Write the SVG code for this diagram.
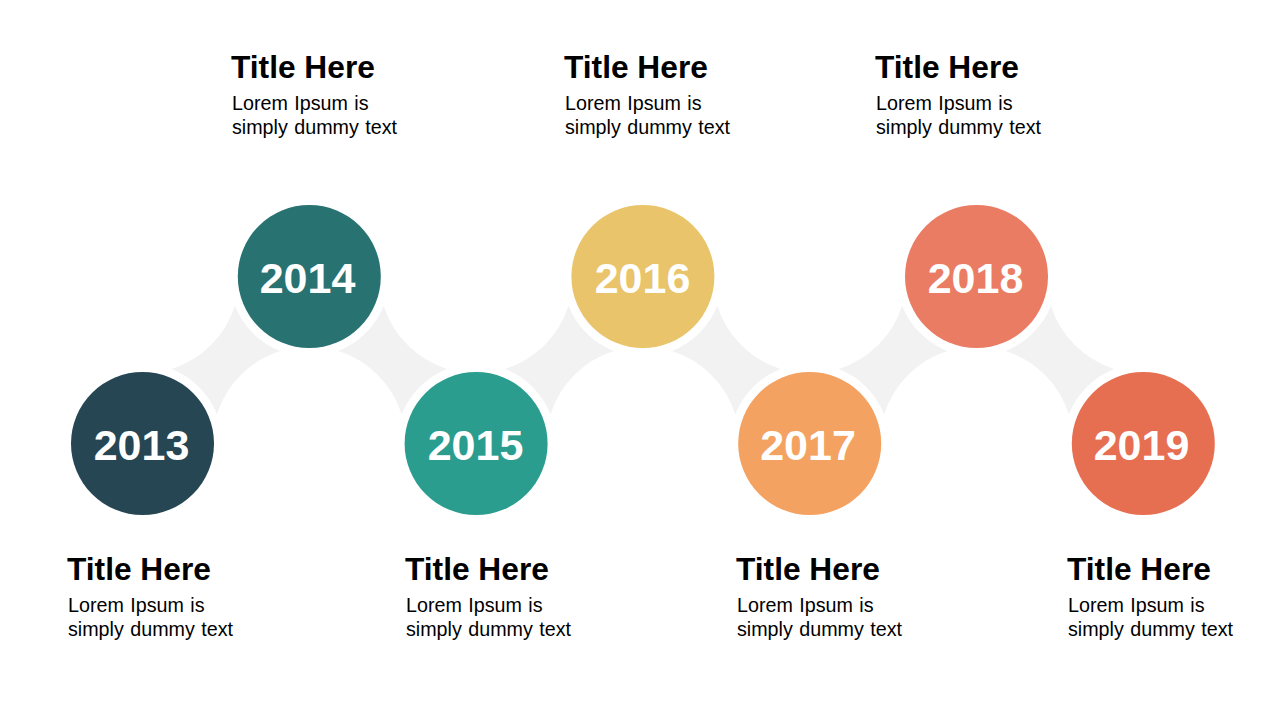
<svg xmlns="http://www.w3.org/2000/svg" xmlns:xlink="http://www.w3.org/1999/xlink" width="1280" height="720" viewBox="0 0 1280 720">
<style>
.title{font-family:"Liberation Sans",Arial,sans-serif;font-weight:bold;font-size:31.7px;fill:#000}
.body{font-family:"Liberation Sans",Arial,sans-serif;font-size:19.7px;fill:#000;word-spacing:1px}
.year{font-family:"Liberation Sans",Arial,sans-serif;font-weight:bold;font-size:43px;fill:#fff;text-anchor:middle}
.star{fill:#F2F2F2}
</style>
<defs>
<path id="starUp" d="M-54.33,8.99 A97,97 0 0 0 9.01,-54.33 A80,80 0 0 0 54.33,-9.01 A97,97 0 0 0 -9.01,54.33 A80,80 0 0 0 -54.33,8.99 Z"/>
</defs>
<rect width="1280" height="720" fill="#fff"/>
<g id="connectors">
<use xlink:href="#starUp" class="star" transform="translate(225.9,360)"/>
<use xlink:href="#starUp" class="star" transform="translate(392.7,360) scale(-1,1)"/>
<use xlink:href="#starUp" class="star" transform="translate(559.5,360)"/>
<use xlink:href="#starUp" class="star" transform="translate(726.3,360) scale(-1,1)"/>
<use xlink:href="#starUp" class="star" transform="translate(893.1,360)"/>
<use xlink:href="#starUp" class="star" transform="translate(1059.9,360) scale(-1,1)"/>
</g>
<g id="node2013">
<circle cx="142.5" cy="443.5" r="71.5" fill="#264653"/>
<text class="year" x="141.5" y="459.5">2013</text>
<text class="title" x="67" y="580">Title Here</text>
<text class="body" x="68" y="611.5">Lorem Ipsum is</text>
<text class="body" x="68" y="635.5">simply dummy text</text>
</g>
<g id="node2014">
<circle cx="309.3" cy="276.5" r="71.5" fill="#287271"/>
<text class="year" x="307.5" y="292.5">2014</text>
<text class="title" x="231" y="77.5">Title Here</text>
<text class="body" x="232" y="109.5">Lorem Ipsum is</text>
<text class="body" x="232" y="133.5">simply dummy text</text>
</g>
<g id="node2015">
<circle cx="476.1" cy="443.5" r="71.5" fill="#2A9D8F"/>
<text class="year" x="475.5" y="459.5">2015</text>
<text class="title" x="405" y="580">Title Here</text>
<text class="body" x="406" y="611.5">Lorem Ipsum is</text>
<text class="body" x="406" y="635.5">simply dummy text</text>
</g>
<g id="node2016">
<circle cx="642.9" cy="276.5" r="71.5" fill="#E9C46A"/>
<text class="year" x="642.5" y="292.5">2016</text>
<text class="title" x="564" y="77.5">Title Here</text>
<text class="body" x="565" y="109.5">Lorem Ipsum is</text>
<text class="body" x="565" y="133.5">simply dummy text</text>
</g>
<g id="node2017">
<circle cx="809.7" cy="443.5" r="71.5" fill="#F4A261"/>
<text class="year" x="808" y="459.5">2017</text>
<text class="title" x="736" y="580">Title Here</text>
<text class="body" x="737" y="611.5">Lorem Ipsum is</text>
<text class="body" x="737" y="635.5">simply dummy text</text>
</g>
<g id="node2018">
<circle cx="976.5" cy="276.5" r="71.5" fill="#EB7C64"/>
<text class="year" x="975.5" y="292.5">2018</text>
<text class="title" x="875" y="77.5">Title Here</text>
<text class="body" x="876" y="109.5">Lorem Ipsum is</text>
<text class="body" x="876" y="133.5">simply dummy text</text>
</g>
<g id="node2019">
<circle cx="1143.3" cy="443.5" r="71.5" fill="#E76F51"/>
<text class="year" x="1141.5" y="459.5">2019</text>
<text class="title" x="1067" y="580">Title Here</text>
<text class="body" x="1068" y="611.5">Lorem Ipsum is</text>
<text class="body" x="1068" y="635.5">simply dummy text</text>
</g>
</svg>
